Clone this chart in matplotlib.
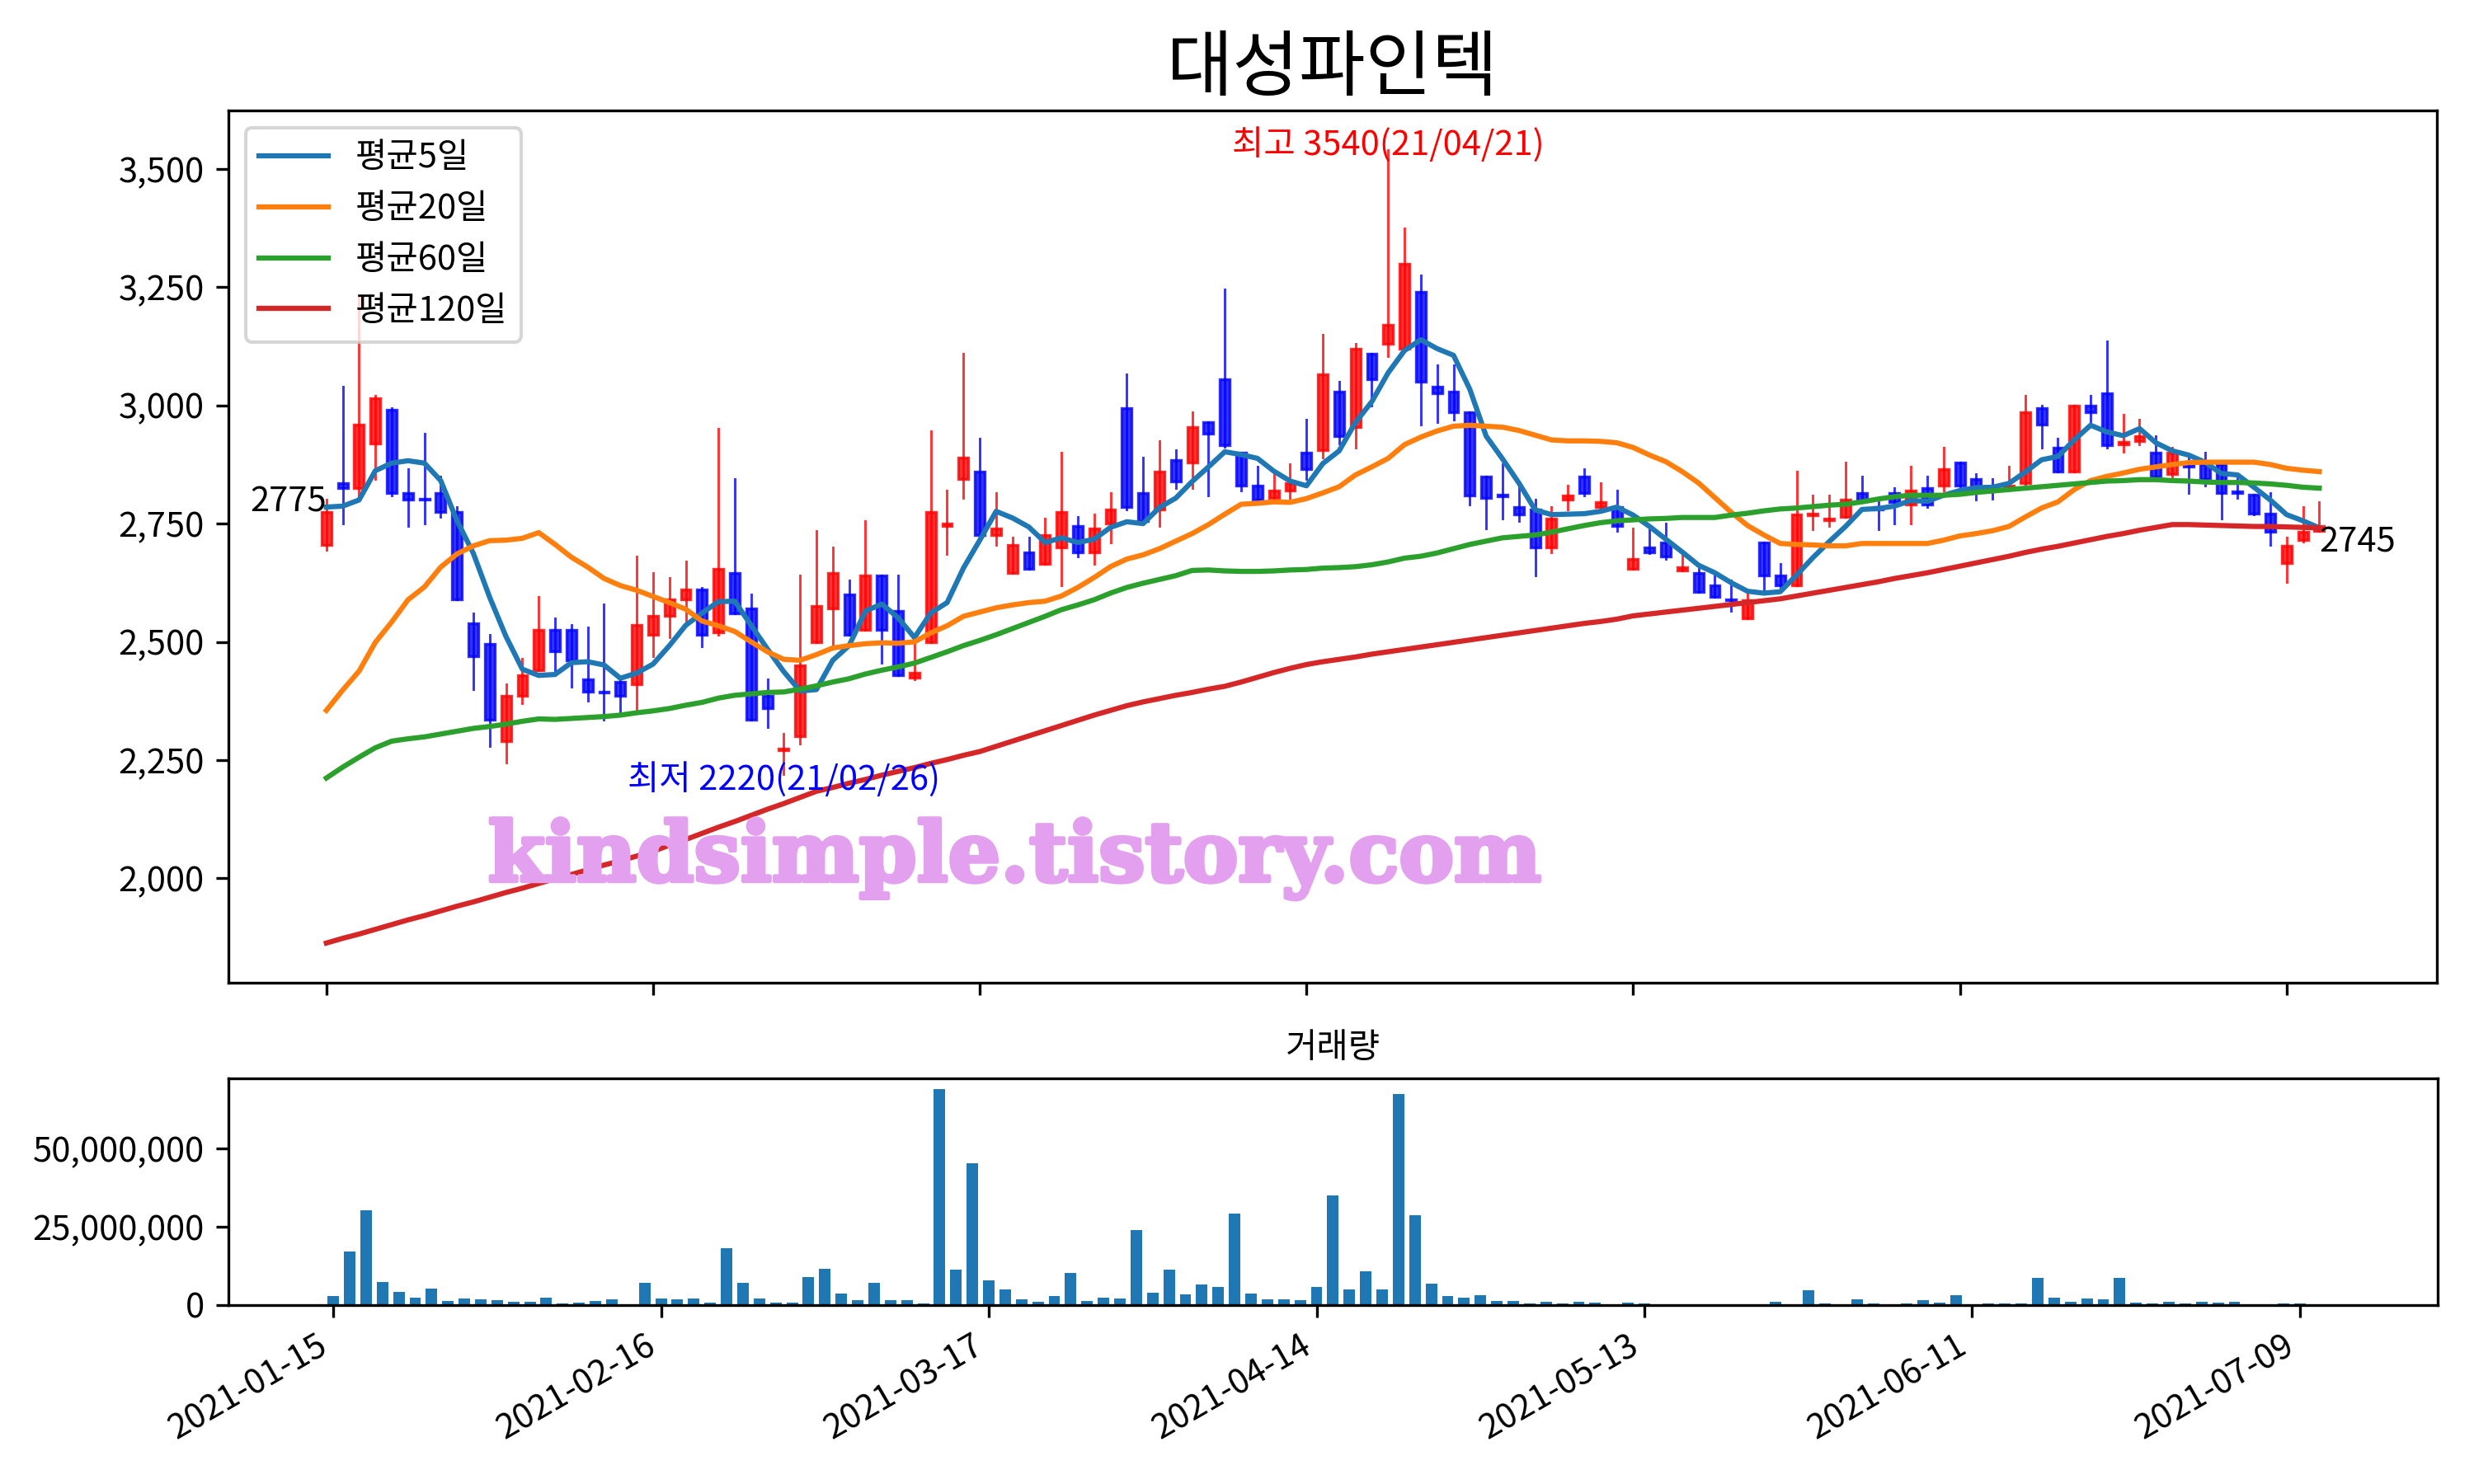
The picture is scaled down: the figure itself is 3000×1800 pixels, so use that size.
import matplotlib

matplotlib.use("Agg")
import matplotlib.pyplot as plt
import matplotlib.patheffects as pe
import numpy as np
from matplotlib.patches import Rectangle
from matplotlib.ticker import FuncFormatter, MultipleLocator

plt.rcParams["font.family"] = ["Noto Sans CJK KR", "DejaVu Sans"]
plt.rcParams["axes.unicode_minus"] = False

TITLE = "대성파인텍"
VOLUME_TITLE = "거래량"
WATERMARK = "kindsimple.tistory.com"
HIGH_DATE = "21/04/21"
LOW_DATE = "21/02/26"
TICK_LABELS = ["2021-01-15", "2021-02-16", "2021-03-17", "2021-04-14",
               "2021-05-13", "2021-06-11", "2021-07-09"]
MA_LABELS = ["평균5일", "평균20일", "평균60일", "평균120일"]

# daily OHLC, one entry per trading day (2021-01-15 .. 2021-07-13)
opens = [
    2705, 2835, 2825, 2920, 2990, 2815, 2802, 2815, 2775, 2540,
    2495, 2290, 2385, 2440, 2525, 2525, 2420, 2395, 2415, 2410,
    2515, 2555, 2590, 2610, 2520, 2645, 2570, 2385, 2270, 2300,
    2500, 2570, 2600, 2525, 2640, 2565, 2425, 2500, 2745, 2845,
    2860, 2725, 2645, 2690, 2665, 2700, 2745, 2690, 2750, 2995,
    2815, 2780, 2885, 2880, 2965, 3055, 2900, 2830, 2805, 2820,
    2900, 2905, 3030, 2955, 3110, 3130, 3120, 3240, 3040, 3030,
    2985, 2850, 2812, 2785, 2780, 2700, 2800, 2850, 2785, 2785,
    2655, 2700, 2710, 2650, 2645, 2620, 2590, 2550, 2710, 2640,
    2620, 2768, 2757, 2765, 2815, 2785, 2815, 2790, 2825, 2830,
    2880, 2845, 2828, 2825, 2835, 2995, 2910, 2860, 3000, 3025,
    2917, 2925, 2900, 2855, 2880, 2875, 2875, 2818, 2812, 2772,
    2667, 2715, 2735,
]
highs = [
    2800, 3040, 3230, 3020, 2995, 2865, 2940, 2850, 2785, 2560,
    2515, 2410, 2465, 2595, 2550, 2535, 2530, 2580, 2420, 2680,
    2645, 2635, 2670, 2615, 2950, 2845, 2600, 2420, 2305, 2640,
    2735, 2700, 2630, 2755, 2640, 2640, 2510, 2945, 2820, 3110,
    2930, 2815, 2720, 2720, 2760, 2900, 2765, 2770, 2815, 3065,
    2890, 2925, 2905, 2985, 2965, 3245, 2900, 2870, 2860, 2875,
    2970, 3150, 3050, 3130, 3110, 3540, 3375, 3275, 3085, 3085,
    2985, 2850, 2875, 2830, 2800, 2785, 2830, 2865, 2835, 2820,
    2740, 2740, 2750, 2685, 2655, 2640, 2630, 2605, 2710, 2665,
    2860, 2810, 2810, 2880, 2850, 2795, 2825, 2870, 2850, 2910,
    2880, 2855, 2845, 2870, 3020, 3000, 2930, 3000, 3020, 3135,
    2980, 2970, 2935, 2910, 2895, 2900, 2875, 2855, 2812, 2815,
    2720, 2785, 2795,
]
lows = [
    2695, 2750, 2810, 2845, 2810, 2745, 2750, 2765, 2590, 2400,
    2280, 2245, 2370, 2440, 2435, 2405, 2375, 2335, 2350, 2355,
    2470, 2510, 2545, 2490, 2515, 2560, 2335, 2320, 2220, 2285,
    2500, 2490, 2515, 2525, 2455, 2430, 2420, 2500, 2685, 2805,
    2725, 2705, 2645, 2655, 2665, 2620, 2680, 2665, 2710, 2780,
    2755, 2745, 2825, 2825, 2810, 2912, 2820, 2800, 2805, 2805,
    2845, 2890, 2920, 2910, 3000, 3105, 3120, 2960, 2965, 2970,
    2790, 2740, 2760, 2755, 2640, 2690, 2780, 2810, 2785, 2735,
    2655, 2688, 2675, 2650, 2605, 2595, 2565, 2550, 2610, 2615,
    2620, 2738, 2745, 2765, 2795, 2738, 2750, 2750, 2785, 2820,
    2828, 2800, 2802, 2825, 2830, 2910, 2860, 2860, 2960, 2910,
    2902, 2918, 2850, 2850, 2815, 2830, 2760, 2805, 2770, 2705,
    2627, 2712, 2735,
]
closes = [
    2775, 2825, 2960, 3015, 2815, 2800, 2800, 2775, 2590, 2470,
    2335, 2385, 2430, 2525, 2480, 2460, 2395, 2393, 2385, 2535,
    2555, 2590, 2610, 2515, 2655, 2560, 2335, 2360, 2275, 2450,
    2575, 2645, 2515, 2640, 2525, 2430, 2435, 2775, 2750, 2890,
    2725, 2740, 2705, 2655, 2725, 2775, 2690, 2740, 2780, 2785,
    2755, 2860, 2840, 2955, 2940, 2915, 2830, 2800, 2820, 2835,
    2865, 3065, 2935, 3120, 3055, 3170, 3300, 3050, 3025, 2985,
    2810, 2805, 2808, 2770, 2700, 2760, 2810, 2815, 2795, 2745,
    2675, 2690, 2680, 2658, 2605, 2595, 2588, 2588, 2640, 2620,
    2770, 2772, 2760, 2800, 2798, 2780, 2795, 2820, 2790, 2865,
    2830, 2825, 2825, 2830, 2985, 2960, 2860, 3000, 2985, 2915,
    2922, 2935, 2850, 2900, 2870, 2845, 2815, 2815, 2772, 2732,
    2703, 2732, 2745,
]
volumes = [
    2820000, 17100000, 30300000, 7320000, 4140000, 2290000, 5200000, 1230000, 2030000, 1760000,
    1500000, 970000, 970000, 2290000, 440000, 710000, 1230000, 1760000, 180000, 7050000,
    2030000, 1760000, 2030000, 710000, 18200000, 7050000, 2030000, 710000, 710000, 8910000,
    11550000, 3610000, 1500000, 7050000, 1500000, 1500000, 440000, 68950000, 11290000, 45400000,
    7850000, 4940000, 1760000, 970000, 2820000, 10230000, 1230000, 2290000, 2030000, 23980000,
    3880000, 11290000, 3350000, 6520000, 5730000, 29270000, 3610000, 1760000, 1760000, 1500000,
    5730000, 35090000, 4940000, 10760000, 4940000, 67360000, 28740000, 6790000, 2820000, 2290000,
    3090000, 1230000, 1230000, 440000, 970000, 440000, 970000, 710000, 180000, 710000,
    440000, 180000, 180000, 180000, 180000, 180000, 100000, 180000, 970000, 180000,
    4670000, 440000, 180000, 1760000, 440000, 180000, 440000, 1500000, 710000, 3090000,
    180000, 440000, 440000, 440000, 8640000, 2290000, 970000, 2030000, 1760000, 8640000,
    710000, 440000, 970000, 440000, 970000, 710000, 970000, 180000, 180000, 440000,
    440000, 180000, 180000,
]

# moving averages
ma5 = [
    2785, 2787, 2800, 2862, 2878, 2883, 2878, 2841, 2756, 2687,
    2594, 2511, 2442, 2429, 2431, 2456, 2458, 2451, 2423, 2434,
    2453, 2492, 2535, 2561, 2585, 2586, 2535, 2485, 2437, 2396,
    2399, 2461, 2492, 2565, 2580, 2551, 2509, 2561, 2583, 2656,
    2715, 2776, 2762, 2743, 2710, 2720, 2710, 2717, 2742, 2754,
    2750, 2784, 2804, 2839, 2870, 2902, 2896, 2888, 2861, 2840,
    2830, 2877, 2904, 2964, 3008, 3069, 3116, 3139, 3120, 3106,
    3034, 2935, 2887, 2836, 2779, 2769, 2770, 2771, 2776, 2785,
    2768, 2744, 2717, 2690, 2662, 2646, 2625, 2607, 2603, 2606,
    2641, 2678, 2712, 2744, 2780, 2782, 2787, 2799, 2797, 2810,
    2820, 2826, 2827, 2835, 2859, 2885, 2892, 2927, 2958, 2944,
    2936, 2951, 2921, 2904, 2895, 2880, 2856, 2853, 2827, 2800,
    2769, 2756, 2741,
]
ma20 = [
    2355, 2398, 2438, 2499, 2542, 2589, 2616, 2658, 2686, 2703,
    2714, 2715, 2719, 2731, 2706, 2679, 2658, 2634, 2619, 2609,
    2596, 2583, 2569, 2544, 2534, 2522, 2500, 2479, 2463, 2461,
    2473, 2487, 2492, 2496, 2498, 2497, 2500, 2519, 2534, 2554,
    2563, 2572, 2578, 2583, 2586, 2597, 2615, 2636, 2659, 2675,
    2684, 2697, 2713, 2729, 2748, 2770, 2791, 2793, 2796, 2795,
    2803, 2815, 2828, 2853, 2870, 2888, 2917, 2933, 2946, 2956,
    2958, 2956, 2954, 2947, 2937, 2927, 2925, 2925, 2924, 2921,
    2911, 2895, 2881, 2860, 2836, 2805, 2774, 2746, 2726, 2708,
    2706, 2705, 2703, 2703, 2708, 2708, 2708, 2708, 2708, 2715,
    2724, 2729, 2735, 2744, 2764, 2783, 2796, 2822, 2841, 2850,
    2857, 2865, 2870, 2875, 2879, 2880, 2880, 2880, 2880, 2875,
    2867, 2863, 2860,
]
ma60 = [
    2212, 2235, 2256, 2276, 2290, 2295, 2299, 2305, 2311, 2317,
    2321, 2326, 2332, 2337, 2336, 2338, 2340, 2342, 2345, 2350,
    2354, 2359, 2366, 2372, 2381, 2387, 2390, 2393, 2394, 2400,
    2407, 2415, 2422, 2432, 2440, 2447, 2455, 2467, 2479, 2492,
    2503, 2515, 2528, 2541, 2554, 2568, 2578, 2589, 2603, 2615,
    2624, 2632, 2640, 2651, 2652, 2650, 2649, 2649, 2650, 2652,
    2653, 2656, 2657, 2659, 2663, 2669, 2677, 2681, 2688, 2697,
    2706, 2713, 2720, 2723, 2726, 2732, 2739, 2746, 2752, 2756,
    2758, 2760, 2761, 2763, 2763, 2763, 2768, 2772, 2777, 2781,
    2783, 2786, 2789, 2791, 2796, 2802, 2807, 2810, 2810, 2810,
    2812, 2816, 2819, 2822, 2825, 2828, 2831, 2834, 2837, 2840,
    2841, 2843, 2843, 2841, 2840, 2838, 2837, 2837, 2836, 2834,
    2831, 2827, 2825,
]
ma120 = [
    1863, 1873, 1882, 1892, 1902, 1912, 1921, 1931, 1941, 1950,
    1960, 1970, 1979, 1989, 1999, 2008, 2018, 2028, 2037, 2047,
    2057, 2070, 2082, 2095, 2108, 2120, 2133, 2146, 2158, 2171,
    2184, 2192, 2201, 2209, 2218, 2226, 2234, 2243, 2251, 2260,
    2268, 2279, 2290, 2301, 2312, 2323, 2334, 2345, 2355, 2365,
    2373, 2380, 2387, 2393, 2400, 2406, 2415, 2425, 2435, 2444,
    2452, 2458, 2463, 2468, 2474, 2479, 2484, 2489, 2494, 2499,
    2504, 2509, 2514, 2519, 2524, 2529, 2534, 2539, 2543, 2548,
    2555, 2559, 2563, 2567, 2571, 2575, 2579, 2583, 2587, 2591,
    2597, 2603, 2609, 2615, 2621, 2627, 2634, 2640, 2646, 2653,
    2660, 2667, 2674, 2681, 2689, 2696, 2702, 2709, 2716, 2723,
    2729, 2736, 2742, 2748, 2748, 2747, 2746, 2745, 2744, 2744,
    2743, 2742, 2741,
]


def draw_candles(ax, xs):
    for x, o, h, l, c in zip(xs, opens, highs, lows, closes):
        color = "r" if c >= o else "b"
        ax.plot([x, x], [l, h], color=color, linewidth=0.7, alpha=0.8)
        body = Rectangle((x - 0.3, min(o, c)), 0.6, abs(c - o),
                         facecolor=color, edgecolor=color, linewidth=0.8, alpha=0.8)
        ax.add_patch(body)


def main() -> None:
    xs = np.arange(len(closes))
    tick_pos = xs[::20]
    comma = FuncFormatter(lambda v, _: f"{v:,.0f}")

    fig = plt.figure(figsize=(10, 6), dpi=300)
    ax = fig.add_axes([0.0923, 0.3378, 0.8927, 0.5878])
    vax = fig.add_axes([0.0923, 0.1206, 0.893, 0.1527])

    draw_candles(ax, xs)
    for values, label, color in zip([ma5, ma20, ma60, ma120], MA_LABELS,
                                    ["tab:blue", "tab:orange", "tab:green", "tab:red"]):
        ax.plot(xs, values, color=color, linewidth=1.5, label=label)

    ax.set_xlim(-6.0, 129.2)
    ax.autoscale_view(scalex=False)
    ax.yaxis.set_major_locator(MultipleLocator(250))
    ax.yaxis.set_major_formatter(comma)
    ax.set_xticks(tick_pos)
    ax.set_xticklabels([])
    ax.set_title(TITLE, fontsize=21)
    ax.legend(loc="upper left")

    hi = int(np.argmax(highs))
    lo = int(np.argmin(lows))
    ax.annotate(f"최고 {highs[hi]}({HIGH_DATE})", (hi, highs[hi]), xytext=(0, 1.5),
                textcoords="offset points", color="r", ha="center", va="center")
    ax.annotate(f"최저 {lows[lo]}({LOW_DATE})", (lo, lows[lo]), xytext=(0, -1.5),
                textcoords="offset points", color="b", ha="center", va="center")
    ax.text(xs[0], closes[0], f"{closes[0]}", ha="right", va="baseline")
    ax.text(xs[-1], closes[-1], f"{closes[-1]}", ha="left", va="top")
    ax.text(0.356, 0.142, WATERMARK, transform=ax.transAxes, fontsize=24,
            fontweight="bold", family="DejaVu Serif", color="#E2A0EE",
            ha="center", va="center",
            path_effects=[pe.withStroke(linewidth=1.2, foreground="#E2A0EE")])

    vax.bar(xs, volumes, width=0.7, color="tab:blue")
    vax.set_xlim(-6.4, 128.4)
    vax.yaxis.set_major_locator(MultipleLocator(25_000_000))
    vax.yaxis.set_major_formatter(comma)
    vax.set_xticks(tick_pos)
    vax.set_xticklabels(TICK_LABELS, rotation=30, ha="right")
    vax.set_title(VOLUME_TITLE, fontsize=10)

    fig.savefig("out.png", dpi=300)
    plt.close(fig)


if __name__ == "__main__":
    main()
